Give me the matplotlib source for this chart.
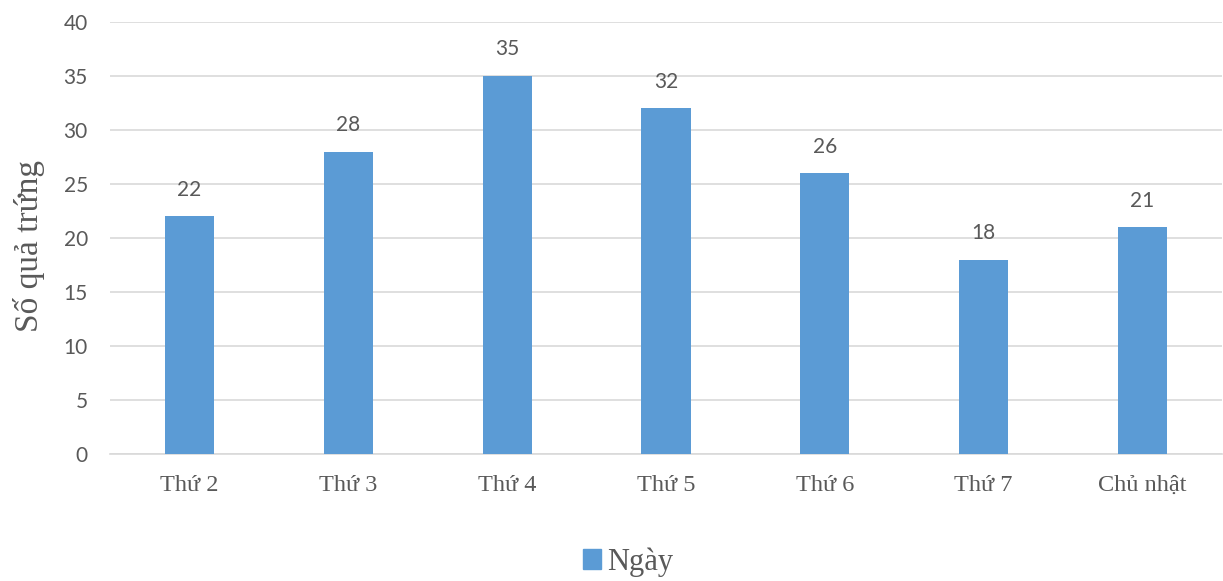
import matplotlib
matplotlib.use("Agg")
import matplotlib.pyplot as plt
from matplotlib.patches import Patch

categories = ["Thứ 2", "Thứ 3", "Thứ 4", "Thứ 5", "Thứ 6", "Thứ 7", "Chủ nhật"]
values = [22, 28, 35, 32, 26, 18, 21]
series_name = "Ngày"
y_label = "Số quả trứng"
y_ticks = [0, 5, 10, 15, 20, 25, 30, 35, 40]

BAR = "#5B9BD5"
TXT = "#595959"
GRID = "#D9D9D9"

fig = plt.figure(figsize=(12.23, 5.81), dpi=100)
ax = fig.add_axes([110/1223, 1-454/581, 1112/1223, (454-22)/581])

x = list(range(len(categories)))
ax.bar(x, values, width=0.31, color=BAR, zorder=3)
ax.set_xlim(-0.5, len(categories)-0.5)
ax.set_ylim(0, 40)
ax.set_yticks(y_ticks)
ax.set_xticks(x)
ax.set_xticklabels(categories, family="Liberation Serif", fontsize=17.5, color=TXT)
ax.set_yticklabels([str(t) for t in y_ticks], family="Lato", fontsize=15, color=TXT)
ax.tick_params(axis="both", length=0)
ax.tick_params(axis="x", pad=15)
ax.tick_params(axis="y", pad=16)
ax.grid(axis="y", color=GRID, linewidth=1.2, zorder=0)
for s in ["top", "right", "left"]:
    ax.spines[s].set_visible(False)
ax.spines["bottom"].set_color(GRID)
ax.spines["bottom"].set_linewidth(1.2)

for xi, v in zip(x, values):
    ax.annotate(str(v), (xi, v), xytext=(0, 12), textcoords="offset points",
                ha="center", va="bottom", family="Lato", fontsize=15, color=TXT)

fig.text(29/1223, 1-246/581, y_label, rotation=90, ha="center", va="center",
         family="Liberation Serif", fontsize=24, color=TXT)

fig.legend(handles=[Patch(color=BAR, label=series_name)], loc="center",
           bbox_to_anchor=(628/1223, 1-562/581), frameon=False,
           prop={"family": "Liberation Serif", "size": 22}, labelcolor=TXT,
           handlelength=0.6, handleheight=0.6, handletextpad=0.2)

fig.savefig("out.png", dpi=100)
